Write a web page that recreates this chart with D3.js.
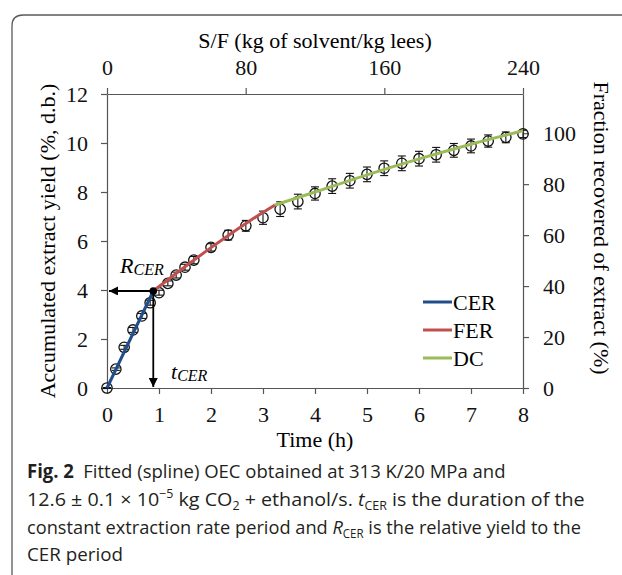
<!DOCTYPE html>
<html>
<head>
<meta charset="utf-8">
<script src="https://cdn.jsdelivr.net/npm/d3@7"></script>
<style>
  html, body { margin: 0; padding: 0; background: #fff; }
  svg { display: block; }
</style>
</head>
<body>
<script>
// observed data (time in h, accumulated yield in %, d.b.)
const times = [0, 0.17, 0.33, 0.5, 0.67, 0.83, 1.0, 1.17, 1.33, 1.5, 1.67, 2.0, 2.33, 2.67, 3.0,
  3.33, 3.67, 4.0, 4.33, 4.67, 5.0, 5.33, 5.67, 6.0, 6.33, 6.67, 7.0, 7.33, 7.67, 8.0];
const yields = [0, 0.77, 1.66, 2.37, 2.94, 3.48, 3.89, 4.27, 4.61, 4.93, 5.22, 5.74, 6.24, 6.62, 6.95,
  7.30, 7.61, 7.94, 8.24, 8.46, 8.72, 8.97, 9.17, 9.36, 9.52, 9.70, 9.88, 10.08, 10.23, 10.37];
const errors = [0.02, 0.05, 0.08, 0.1, 0.1, 0.1, 0.1, 0.1, 0.12, 0.12, 0.15, 0.15, 0.2, 0.22, 0.27,
  0.3, 0.3, 0.27, 0.3, 0.3, 0.3, 0.3, 0.3, 0.3, 0.3, 0.28, 0.28, 0.25, 0.22, 0.15];

// fitted spline pieces
const cerTimes = [0, 0.89];
const cerYields = [0, 3.96];
const ferTimes = [0.89, 1.5, 2.0, 2.7, 3.23];
const ferYields = [3.96, 4.95, 5.73, 6.76, 7.47];
const dcTimes = [3.23, 4.0, 5.0, 6.0, 7.0, 8.0];
const dcYields = [7.47, 8.0, 8.70, 9.35, 9.95, 10.5];

const tCER = 0.89, rCER = 3.96;

const series = ['CER', 'FER', 'DC'];
const colors = ['#1f4e8a', '#c0504d', '#9bbb59'];

const xTicks = [0, 1, 2, 3, 4, 5, 6, 7, 8];
const yTicks = [0, 2, 4, 6, 8, 10, 12];
const topTicks = [0, 80, 160, 240];
const rightTicks = [0, 20, 40, 60, 80, 100];

const W = 622, H = 575;
const plotL = 107, plotR = 523, plotT = 94, plotB = 388;
const serif = '"Liberation Serif", "Times New Roman", serif';

const svg = d3.select('body').append('svg')
  .attr('width', W).attr('height', H);

// rounded frame around the figure
svg.append('path')
  .attr('d', 'M12,575 L12,26 Q12,15 23,15 L622,15')
  .attr('fill', 'none')
  .attr('stroke', '#58595b')
  .attr('stroke-width', 1.3);

const x = d3.scaleLinear().domain([0, 8]).range([plotL, plotR]);
const y = d3.scaleLinear().domain([0, 12]).range([plotB, plotT]);
const xTop = d3.scaleLinear().domain([0, 240]).range([plotL, plotR]);
const yRight = d3.scaleLinear().domain([0, 12 / 10.4 * 100]).range([plotB, plotT]);

function styleAxis(g) {
  g.selectAll('path, line').attr('stroke', '#555').attr('stroke-width', 1.2);
  g.selectAll('text').attr('font-family', serif).attr('font-size', 22).attr('fill', '#111');
}

svg.append('g').attr('transform', `translate(0,${plotB})`)
  .call(d3.axisBottom(x).tickValues(xTicks).tickSize(6).tickSizeOuter(0).tickPadding(12))
  .call(styleAxis);
svg.append('g').attr('transform', `translate(${plotL},0)`)
  .call(d3.axisLeft(y).tickValues(yTicks).tickSize(6).tickSizeOuter(0).tickPadding(13))
  .call(styleAxis);
svg.append('g').attr('transform', `translate(0,${plotT})`)
  .call(d3.axisTop(xTop).tickValues(topTicks).tickSize(6).tickSizeOuter(0).tickPadding(13))
  .call(styleAxis);
svg.append('g').attr('transform', `translate(${plotR},0)`)
  .call(d3.axisRight(yRight).tickValues(rightTicks).tickSize(6).tickSizeOuter(0).tickPadding(14))
  .call(styleAxis);

// axis titles
svg.append('text')
  .attr('x', (plotL + plotR) / 2).attr('y', 447)
  .attr('text-anchor', 'middle')
  .attr('font-family', serif).attr('font-size', 22)
  .text('Time (h)');
svg.append('text')
  .attr('x', (plotL + plotR) / 2).attr('y', 48)
  .attr('text-anchor', 'middle')
  .attr('font-family', serif).attr('font-size', 22)
  .text('S/F (kg of solvent/kg lees)');
svg.append('text')
  .attr('transform', `translate(55,${(plotT + plotB) / 2}) rotate(-90)`)
  .attr('text-anchor', 'middle')
  .attr('font-family', serif).attr('font-size', 22)
  .text('Accumulated extract yield (%, d.b.)');
svg.append('text')
  .attr('transform', `translate(594,228) rotate(90)`)
  .attr('text-anchor', 'middle')
  .attr('font-family', serif).attr('font-size', 22)
  .text('Fraction recovered of extract (%)');

// error bars + open circles
const pts = times.map((t, i) => ({t: t, v: yields[i], e: errors[i]}));
const pg = svg.append('g');
pg.selectAll('line.err').data(pts).enter().append('line')
  .attr('x1', d => x(d.t)).attr('x2', d => x(d.t))
  .attr('y1', d => y(d.v - d.e)).attr('y2', d => y(d.v + d.e))
  .attr('stroke', '#111').attr('stroke-width', 1.1);
[-1, 1].forEach(s => {
  pg.selectAll(null).data(pts).enter().append('line')
    .attr('x1', d => x(d.t) - 4).attr('x2', d => x(d.t) + 4)
    .attr('y1', d => y(d.v + s * d.e)).attr('y2', d => y(d.v + s * d.e))
    .attr('stroke', '#111').attr('stroke-width', 1.1);
});
pg.selectAll('circle').data(pts).enter().append('circle')
  .attr('cx', d => x(d.t)).attr('cy', d => y(d.v))
  .attr('r', 5.2)
  .attr('fill', 'none')
  .attr('stroke', '#111').attr('stroke-width', 1.3);

// fitted curves
const line = d3.line()
  .x(d => x(d[0])).y(d => y(d[1]))
  .curve(d3.curveMonotoneX);
const fits = [
  d3.zip(cerTimes, cerYields),
  d3.zip(ferTimes, ferYields),
  d3.zip(dcTimes, dcYields)
];
svg.selectAll('path.fit').data(fits).enter().append('path')
  .attr('class', 'fit')
  .attr('d', line)
  .attr('fill', 'none')
  .attr('stroke', (d, i) => colors[i])
  .attr('stroke-width', 3);

// CER markers: arrows to both axes
const defs = svg.append('defs');
defs.append('marker')
  .attr('id', 'arrow')
  .attr('viewBox', '0 0 10 10')
  .attr('refX', 10).attr('refY', 5)
  .attr('markerWidth', 9).attr('markerHeight', 9)
  .attr('markerUnits', 'userSpaceOnUse')
  .attr('orient', 'auto')
  .append('path').attr('d', 'M0,0 L10,5 L0,10 Z').attr('fill', '#000');

svg.append('line')
  .attr('x1', x(tCER)).attr('y1', y(rCER))
  .attr('x2', x(0) + 2).attr('y2', y(rCER))
  .attr('stroke', '#000').attr('stroke-width', 1.8)
  .attr('marker-end', 'url(#arrow)');
svg.append('line')
  .attr('x1', x(tCER)).attr('y1', y(rCER))
  .attr('x2', x(tCER)).attr('y2', y(0) - 1)
  .attr('stroke', '#000').attr('stroke-width', 1.8)
  .attr('marker-end', 'url(#arrow)');
svg.append('circle')
  .attr('cx', x(tCER)).attr('cy', y(rCER)).attr('r', 3.8)
  .attr('fill', '#000');

const rLab = svg.append('text')
  .attr('x', 120).attr('y', 273)
  .attr('font-family', serif).attr('font-style', 'italic').attr('font-size', 22);
rLab.append('tspan').text('R');
rLab.append('tspan').attr('font-size', 16).attr('dy', 2).text('CER');
const tLab = svg.append('text')
  .attr('x', 171).attr('y', 379)
  .attr('font-family', serif).attr('font-style', 'italic').attr('font-size', 22);
tLab.append('tspan').text('t');
tLab.append('tspan').attr('font-size', 16).attr('dy', 2).text('CER');

// legend
const legY = [302, 330, 358];
const leg = svg.append('g');
series.forEach((s, i) => {
  leg.append('line')
    .attr('x1', 423).attr('x2', 452)
    .attr('y1', legY[i]).attr('y2', legY[i])
    .attr('stroke', colors[i]).attr('stroke-width', 3);
  leg.append('text')
    .attr('x', 453).attr('y', legY[i] + 7.5)
    .attr('font-family', serif).attr('font-size', 22)
    .text(s);
});

// caption
const capFont = '"Open Sans", "Noto Sans", sans-serif';
const capLines = [
  {y: 478, w: 479, parts: [
    {t: 'Fig. 2', b: true}, {t: '\u2002Fitted (spline) OEC obtained at 313 K/20 MPa and'}]},
  {y: 506, w: 558, parts: [
    {t: '12.6 \u00b1 0.1 \u00d7 10'}, {t: '\u22125', sup: true}, {t: ' kg CO'}, {t: '2', sub: true},
    {t: ' + ethanol/s. '}, {t: 't', i: true}, {t: 'CER', sub: true},
    {t: ' is the duration of the'}]},
  {y: 534, w: 554, parts: [
    {t: 'constant extraction rate period and '}, {t: 'R', i: true}, {t: 'CER', sub: true},
    {t: ' is the relative yield to the'}]},
  {y: 561, w: 96, parts: [{t: 'CER period'}]}
];
capLines.forEach(L => {
  const g = svg.append('g');
  const tx = g.append('text')
    .attr('x', 0).attr('y', 0)
    .attr('font-family', capFont).attr('font-size', 19)
    .attr('fill', '#231f20');
  let shifted = 0;
  L.parts.forEach(p => {
    const ts = tx.append('tspan').text(p.t);
    if (p.b) ts.attr('font-weight', 700);
    if (p.i) ts.attr('font-style', 'italic');
    if (p.sup) { ts.attr('font-size', 12).attr('dy', -8 - shifted); shifted = -8; }
    else if (p.sub) { ts.attr('font-size', 12).attr('dy', 4 - shifted); shifted = 4; }
    else if (shifted) { ts.attr('dy', -shifted); shifted = 0; }
  });
  const bw = tx.node().getComputedTextLength();
  g.attr('transform', `translate(27,${L.y}) scale(${L.w / bw},1)`);
});
</script>
</body>
</html>
